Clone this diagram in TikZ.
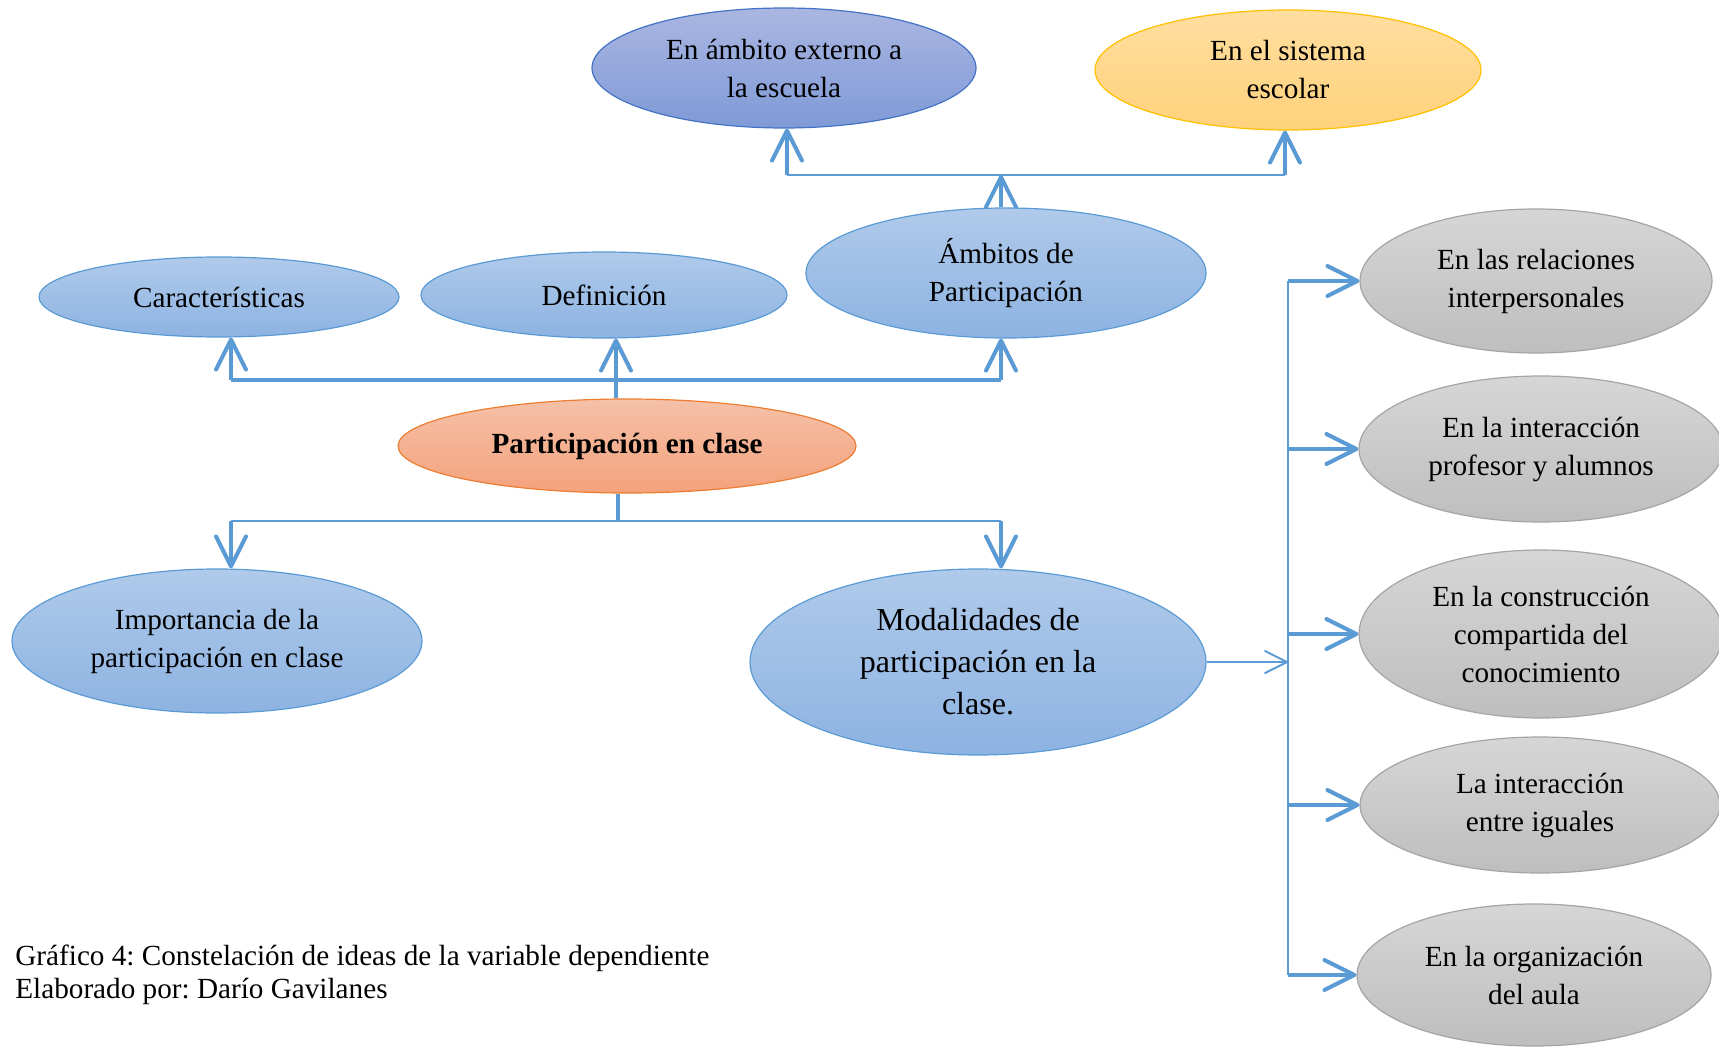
\documentclass[tikz,border=0pt]{standalone}
\usepackage{fontspec}
\setmainfont{Liberation Serif}
\frenchspacing
\usepackage{tikz}
\usetikzlibrary{shapes.geometric, arrows.meta}
\usepackage{xcolor}
\definecolor{linea}{HTML}{5B9BD5}
\definecolor{azulA}{HTML}{B0CAEA}
\definecolor{azulB}{HTML}{8DB3E2}
\definecolor{azulBorde}{HTML}{5B9BD5}
\definecolor{moradoA}{HTML}{AAB6E1}
\definecolor{moradoB}{HTML}{7F9AD7}
\definecolor{moradoBorde}{HTML}{4472C4}
\definecolor{amarilloA}{HTML}{FFDEA0}
\definecolor{amarilloB}{HTML}{FFD27C}
\definecolor{amarilloBorde}{HTML}{FFC000}
\definecolor{naranjaA}{HTML}{F5C1A8}
\definecolor{naranjaB}{HTML}{F4A27C}
\definecolor{naranjaBorde}{HTML}{ED7D31}
\definecolor{grisA}{HTML}{D6D6D6}
\definecolor{grisB}{HTML}{BEBEBE}
\definecolor{grisBorde}{HTML}{A5A5A5}
\tikzset{
  idea/.style={ellipse, inner sep=0pt, align=center, line width=0.6pt,
    font=\fontsize{14.6}{19}\selectfont},
  azul/.style={idea, draw=azulBorde, top color=azulA, bottom color=azulB},
  morado/.style={idea, draw=moradoBorde, top color=moradoA, bottom color=moradoB},
  amarillo/.style={idea, draw=amarilloBorde, top color=amarilloA, bottom color=amarilloB},
  naranja/.style={idea, draw=naranjaBorde, top color=naranjaA, bottom color=naranjaB},
  gris/.style={idea, draw=grisBorde, top color=grisA, bottom color=grisB},
  barra/.style={draw=linea, line width=1.6pt},
  flecha/.style={draw=linea, line width=1.8pt,
    -{Straight Barb[round, length=15pt, width=15pt, line width=2pt]}},
  flechafina/.style={draw=linea, line width=1pt,
    -{Straight Barb[round, length=11pt, width=11pt, line width=1pt]}},
}

\begin{document}
\begin{tikzpicture}[x=0.5pt, y=-0.5pt]
    % Marco
    \useasboundingbox (0,0) rectangle (1719,1048);
    \fill[white] (0,0) rectangle (1719,1048);
    % Nodos
    \node[morado, minimum width=192pt, minimum height=60pt] (ext) at (784,68) {En ámbito externo a\\la escuela};
    \node[amarillo, minimum width=193pt, minimum height=60pt] (esc) at (1288,70) {En el sistema\\escolar};
    \node[azul, minimum width=200pt, minimum height=65pt] (amb) at (1006,273) {Ámbitos de\\Participación};
    \node[azul, minimum width=180pt, minimum height=40pt] (car) at (219,297) {Características};
    \node[azul, minimum width=183pt, minimum height=43pt] (def) at (604,295) {Definición};
    \node[naranja, minimum width=229pt, minimum height=47pt, font=\fontsize{14.6}{19}\selectfont\bfseries] (part) at (627,446) {Participación en clase};
    \node[azul, minimum width=205pt, minimum height=72pt] (imp) at (217,641) {Importancia de la\\participación en clase};
    \node[azul, minimum width=228pt, minimum height=93pt, font=\fontsize{16}{21}\selectfont] (mod) at (978,662) {Modalidades de\\participación en la\\clase.};
    \node[gris, minimum width=176pt, minimum height=72pt] (rel) at (1536,281) {En las relaciones\\interpersonales};
    \node[gris, minimum width=182pt, minimum height=73pt] (prof) at (1541,449) {En la interacción\\profesor y alumnos};
    \node[gris, minimum width=182pt, minimum height=84pt] (cons) at (1541,634) {En la construcción\\compartida del\\conocimiento};
    \node[gris, minimum width=180pt, minimum height=68pt] (igu) at (1540,805) {La interacción\\entre iguales};
    \node[gris, minimum width=177pt, minimum height=71pt] (org) at (1534,975) {En la organización\\del aula};
    \node[anchor=west, align=left, inner sep=0pt, font=\fontsize{14.6}{16.5}\selectfont] (leyenda) at (15,975)
        {Gráfico 4: Constelación de ideas de la variable dependiente\\Elaborado por: Darío Gavilanes};
    % Puntos de las barras
    \coordinate (bext) at (787,175);
    \coordinate (besc) at (1285,175);
    \coordinate (bcar) at (231,380);
    \coordinate (bdef) at (616,380);
    \coordinate (bamb) at (1001,380);
    \coordinate (bpart) at (618,521);
    \coordinate (bimp) at (231,521);
    \coordinate (bmod) at (1001,521);
    \coordinate (vert) at (1288,0);
    % Hacia arriba
    \draw[barra] (bdef |- part.north) -- (bdef);
    \draw[barra, line width=2pt] (bcar) -- (bamb);
    \draw[flecha] (bcar) -- (bcar |- car.south);
    \draw[flecha] (bdef) -- (bdef |- def.south);
    \draw[flecha] (bamb) -- (bamb |- amb.south);
    \draw[flecha] (amb.north -| bamb) -- (bamb |- bext);
    \draw[barra, line width=1.2pt] (bext) -- (besc);
    \draw[flecha] (bext) -- (bext |- ext.south);
    \draw[flecha] (besc) -- (besc |- esc.south);
    % Hacia abajo
    \draw[barra] (bpart |- part.south) -- (bpart);
    \draw[barra, line width=1.2pt] (bimp) -- (bmod);
    \draw[flecha] (bimp) -- (bimp |- imp.north);
    \draw[flecha] (bmod) -- (bmod |- mod.north);
    % Modalidades
    \draw[flechafina] (mod.east) -- (mod.east -| vert);
    \draw[barra, line width=1.2pt] (vert |- rel.west) -- (vert |- org.west);
    \foreach \m in {rel, prof, cons, igu, org}
        \draw[flecha] (vert |- \m.west) -- (\m.west);
\end{tikzpicture}
\end{document}
